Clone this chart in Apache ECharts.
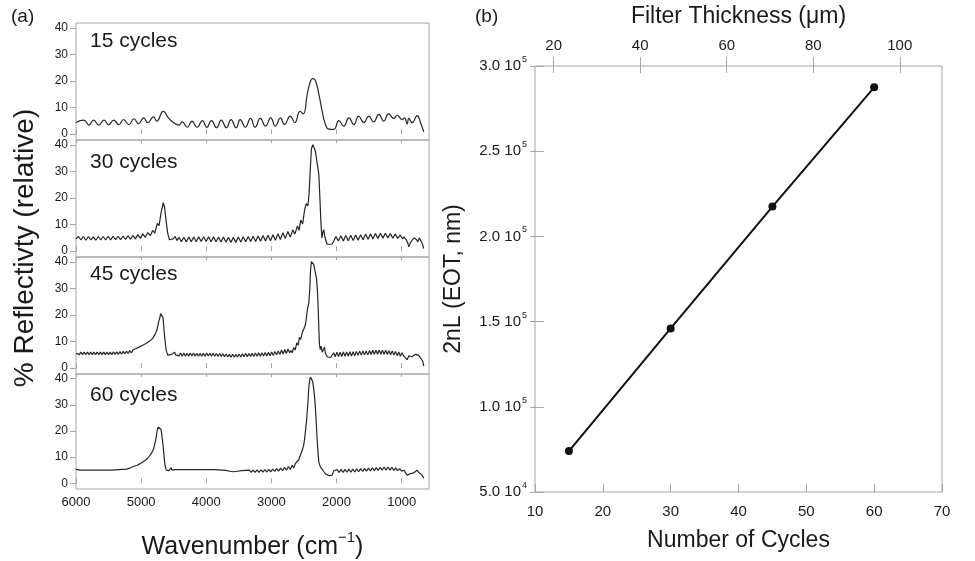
<!DOCTYPE html>
<html>
<head>
<meta charset="utf-8">
<title>Reflectivity spectra and EOT vs cycles</title>
<script src="https://cdn.jsdelivr.net/npm/echarts@6/dist/echarts.min.js"></script>
<style>
  html, body { margin: 0; padding: 0; background: #fff; }
  #chart { width: 975px; height: 561px; }
</style>
</head>
<body>
<div id="chart"></div>
<script>
const FONT = '"Liberation Sans", Arial, Helvetica, sans-serif'

// panel (a): stacked spectra
const panelNames = ['15 cycles', '30 cycles', '45 cycles', '60 cycles']
const wavenumberTicks = [1000, 2000, 3000, 4000, 5000, 6000]
const reflectTicks = [0, 10, 20, 30, 40]

// [wavenumber (cm-1), % reflectivity]
const spec15 = [
  [6000,4.4],[5880,5.3],[5800,3.4],[5730,5.3],[5650,3.4],[5570,5.3],[5500,3.6],[5420,5.3],[5340,3.6],[5270,5.5],
  [5190,3.6],[5110,5.8],[5040,3.9],[4960,6.1],[4900,4.3],[4810,6.5],[4760,4.9],[4660,8.6],[4580,6.1],[4500,4.3],
  [4420,3.4],[4370,4.6],[4290,2.6],[4220,4.9],[4140,2.6],[4060,5.1],[3990,2.6],[3920,5.1],[3840,2.4],[3770,5.3],
  [3690,2.4],[3620,5.5],[3540,2.4],[3480,5.5],[3400,2.6],[3320,5.9],[3250,2.6],[3170,5.9],[3090,3.0],[3010,6.1],
  [2940,3.0],[2860,6.1],[2800,3.6],[2710,6.8],[2640,4.3],[2560,8.6],[2510,7.6],[2450,14.9],[2400,19.9],[2365,20.9],
  [2325,20.2],[2270,14.9],[2220,8.6],[2170,3.6],[2120,1.9],[2040,1.8],[1965,5.1],[1890,3.0],[1810,6.1],[1735,3.6],
  [1660,6.8],[1580,4.3],[1505,6.8],[1430,4.6],[1350,7.4],[1275,4.9],[1200,7.6],[1120,5.9],[1070,7.1],[990,5.5],
  [955,6.1],[915,3.9],[890,5.9],[840,4.3],[760,7.0],[710,4.3],[660,0.9]
]

const spec30 = [
  [6000,4.6],[5962,5.5],[5924,4.2],[5886,5.5],[5848,4.1],[5810,5.5],[5772,4.2],[5734,5.4],[5696,4.1],[5658,5.5],
  [5620,4.2],[5582,5.5],[5544,4.2],[5506,5.6],[5468,4.2],[5430,5.6],[5392,4.3],[5354,5.6],[5316,4.3],[5278,5.7],
  [5240,4.4],[5202,5.8],[5164,4.5],[5126,5.9],[5088,4.6],[5050,6.2],[5012,4.8],[4974,6.5],[4936,5.2],[4898,7.0],
  [4860,5.8],[4822,7.8],[4790,6.8],[4752,10.4],[4725,9.6],[4690,15.0],[4660,18.2],[4640,16.5],[4615,11.0],[4590,6.5],
  [4565,4.3],[4540,4.0],[4510,4.6],[4478,5.5],[4450,4.0],
  [4420,5.2],[4382,3.6],[4344,5.2],[4306,3.5],[4268,5.3],[4230,3.5],[4192,5.3],[4154,3.5],[4116,5.4],[4078,3.6],
  [4040,5.4],[4002,3.6],[3964,5.4],[3926,3.5],[3888,5.4],[3850,3.5],[3812,5.3],[3774,3.4],[3736,5.3],[3698,3.4],
  [3660,5.2],[3622,3.3],[3584,5.2],[3546,3.3],[3508,5.3],[3470,3.4],[3432,5.4],[3394,3.5],[3356,5.5],[3318,3.6],
  [3280,5.6],[3242,3.6],[3204,5.7],[3166,3.7],[3128,5.9],[3090,3.8],[3052,6.0],[3014,3.9],[2976,6.2],[2938,4.1],
  [2900,6.5],[2862,4.4],[2824,6.9],[2786,4.8],[2748,7.4],[2710,5.3],[2672,8.0],[2640,6.4],[2600,9.5],[2575,7.8],
  [2550,11.7],[2520,10.2],[2490,15.5],[2465,17.9],[2440,17.0],[2420,22.0],[2400,32.0],[2385,38.5],[2365,40.0],[2345,39.0],
  [2323,37.5],[2300,33.5],[2272,29.0],[2255,20.0],[2240,11.0],[2225,5.0],[2210,7.0],[2195,8.1],[2180,5.5],[2165,4.2],
  [2145,2.6],[2100,2.6],[2067,2.7],[2040,3.9],
  [2010,5.5],[1972,3.8],[1934,5.8],[1896,3.8],[1858,5.9],[1820,3.9],[1782,6.0],[1744,4.0],[1706,6.1],[1668,4.1],
  [1630,6.2],[1592,4.3],[1554,6.4],[1516,4.5],[1478,6.5],[1440,4.6],[1402,6.6],[1364,4.8],[1326,6.7],[1288,4.9],
  [1250,6.7],[1212,5.0],[1174,6.6],[1136,4.9],[1098,6.4],[1060,4.8],[1022,6.0],[984,4.6],[966,5.4],[930,4.3],
  [905,3.0],[890,1.6],[865,3.2],[838,4.1],[810,5.0],[787,5.6],[770,4.3],[751,3.5],[730,5.0],[710,5.1],
  [685,3.0],[660,1.0]
]

const spec45 = [
  [6000,5.6],[5975,6.0],[5950,5.1],[5925,6.0],[5900,5.1],[5875,6.0],[5850,5.1],[5825,6.0],[5800,5.1],[5775,6.0],
  [5750,5.1],[5725,6.0],[5700,5.1],[5675,6.0],[5650,5.1],[5625,6.0],[5600,5.1],[5575,6.0],[5550,5.1],[5525,6.0],
  [5500,5.1],[5475,6.0],[5450,5.1],[5425,6.1],[5400,5.2],[5375,6.1],[5350,5.2],[5325,6.2],[5300,5.3],[5275,6.3],
  [5250,5.4],[5225,6.4],[5200,5.5],[5175,6.6],[5150,5.7],[5125,6.9],[5100,6.2],[5075,7.4],[5050,6.7],[5025,8.0],
  [5000,7.3],[4975,8.6],[4950,7.9],[4925,9.3],[4900,8.8],[4875,10.1],[4850,9.7],[4825,11.1],[4805,11.6],[4780,13.0],
  [4755,14.5],[4735,17.0],[4714,18.9],[4700,20.5],[4688,21.1],[4675,20.3],[4663,18.9],[4652,15.5],[4642,12.6],[4627,9.0],
  [4612,6.4],[4591,4.9],[4565,5.0],[4530,5.2],[4500,5.4],[4485,6.0],[4470,5.0],
  [4445,5.6],[4420,4.6],[4395,5.7],[4370,4.5],[4345,5.7],[4320,4.5],[4295,5.6],[4270,4.5],[4245,5.7],[4220,4.6],
  [4195,5.7],[4170,4.5],[4145,5.6],[4120,4.5],[4095,5.6],[4070,4.5],[4045,5.6],[4020,4.5],[3995,5.7],[3970,4.6],
  [3945,5.6],[3920,4.5],[3895,5.6],[3870,4.5],[3845,5.5],[3820,4.4],[3795,5.5],[3770,4.4],[3745,5.4],[3720,4.3],
  [3695,5.3],[3670,4.2],[3645,5.2],[3620,4.1],[3595,5.2],[3570,4.1],[3545,5.2],[3520,4.2],[3495,5.3],[3470,4.2],
  [3445,5.4],[3420,4.3],[3395,5.5],[3370,4.3],[3345,5.5],[3320,4.4],[3295,5.6],[3270,4.4],[3245,5.7],[3220,4.5],
  [3195,5.8],[3170,4.5],[3145,5.8],[3120,4.6],[3095,5.9],[3070,4.6],[3045,6.0],[3020,4.7],[2995,6.1],[2970,4.8],
  [2945,6.3],[2920,5.0],[2895,6.5],[2870,5.1],[2845,6.8],[2820,5.3],[2795,7.0],[2770,5.5],[2745,7.2],[2720,5.8],
  [2700,6.6],[2680,5.8],[2656,7.8],[2635,6.8],[2610,9.5],[2590,8.6],[2570,11.6],[2550,10.8],[2528,13.2],[2510,12.6],
  [2490,15.5],[2477,16.4],[2460,19.5],[2451,21.4],[2440,23.0],[2425,24.5],[2410,30.0],[2400,36.4],[2385,40.1],[2365,39.8],
  [2349,38.9],[2330,36.5],[2308,33.9],[2290,28.0],[2282,22.6],[2270,14.0],[2262,8.9],[2250,7.0],[2236,8.3],[2220,6.0],
  [2205,6.4],[2185,7.9],[2170,5.5],[2159,4.9],[2140,4.2],[2118,3.9],[2090,4.0],[2067,4.2],
  [2045,5.8],[2020,4.3],[1995,6.0],[1970,4.4],[1945,6.0],[1920,4.4],[1895,6.1],[1870,4.5],[1845,6.1],[1820,4.5],
  [1795,6.2],[1770,4.6],[1745,6.2],[1720,4.7],[1695,6.3],[1670,4.8],[1645,6.4],[1620,4.9],[1595,6.5],[1570,5.0],
  [1545,6.5],[1520,5.0],[1495,6.6],[1470,5.1],[1445,6.7],[1420,5.2],[1395,6.7],[1370,5.2],[1345,6.8],[1320,5.2],
  [1295,6.7],[1270,5.2],[1245,6.7],[1220,5.1],[1195,6.6],[1170,5.0],[1145,6.5],[1120,4.9],[1095,6.3],[1070,4.7],
  [1045,6.1],[1020,4.5],[995,5.8],[970,4.6],[945,5.3],[915,3.2],[890,4.6],[864,4.9],[840,4.3],[813,4.5],
  [790,5.2],[762,5.7],[740,4.8],[710,3.9],[690,4.3],[675,2.5],[660,0.8]
]

const spec60 = [
  [6000,5.3],[5970,5.6],[5940,5.0],[5910,5.6],[5880,5.0],[5850,5.6],[5820,5.0],[5790,5.6],[5760,5.0],[5730,5.6],
  [5700,5.0],[5670,5.6],[5640,5.0],[5610,5.6],[5580,5.0],[5550,5.6],[5520,5.0],[5490,5.6],[5460,5.0],[5430,5.7],
  [5400,5.1],[5370,5.7],[5340,5.2],[5310,5.8],[5280,5.3],[5250,5.9],[5220,5.4],[5190,6.0],[5165,5.9],[5130,6.3],
  [5100,6.4],[5062,6.9],[5020,7.4],[4990,7.9],[4960,8.4],[4920,9.1],[4883,10.0],[4860,10.6],[4832,11.9],[4810,13.0],
  [4791,15.0],[4770,17.5],[4755,20.0],[4740,21.5],[4729,22.1],[4712,21.6],[4694,20.6],[4680,18.0],[4663,14.4],[4650,11.0],
  [4637,7.5],[4625,6.0],[4612,5.0],[4590,4.8],[4576,4.8],[4555,5.5],[4540,5.9],[4525,5.0],[4509,4.6],
  [4480,5.2],[4450,4.7],[4420,5.2],[4390,4.7],[4360,5.2],[4330,4.7],[4300,5.2],[4270,4.7],[4240,5.2],[4210,4.7],
  [4180,5.2],[4150,4.7],[4120,5.2],[4090,4.7],[4060,5.2],[4030,4.7],[4000,5.2],[3970,4.7],[3940,5.2],[3910,4.6],
  [3880,5.2],[3850,4.6],[3820,5.1],[3790,4.5],[3760,5.0],[3730,4.4],[3700,4.9],[3670,4.2],[3640,4.6],[3610,4.0],
  [3580,4.4],[3550,4.0],[3520,4.6],[3490,4.1],[3460,4.8],[3430,4.2],[3400,4.9],[3370,4.2],[3340,5.0],[3310,4.2],
  [3280,5.0],[3250,4.2],[3220,5.1],[3190,4.2],[3160,5.1],[3130,4.3],[3100,5.2],[3070,4.3],[3040,5.3],[3010,4.4],
  [2980,5.4],[2950,4.5],[2920,5.6],[2890,4.6],[2860,5.8],[2830,4.8],[2800,6.1],[2770,5.0],[2740,6.4],[2710,5.3],
  [2680,6.9],[2656,5.9],[2630,7.6],[2605,7.0],[2580,9.0],[2555,9.2],[2528,12.5],[2505,14.5],[2490,17.0],[2477,20.0],
  [2462,23.5],[2451,26.9],[2438,31.0],[2425,36.9],[2410,39.8],[2400,40.6],[2385,40.3],[2364,38.8],[2350,36.0],[2333,31.9],
  [2315,25.0],[2298,16.9],[2285,12.0],[2272,8.1],[2258,7.0],[2246,6.2],[2233,5.6],[2221,5.4],[2208,4.8],[2195,4.4],
  [2170,3.6],[2144,2.9],[2110,2.9],[2067,3.1],[2042,4.8],
  [2020,4.1],[1990,5.2],[1960,4.1],[1930,5.3],[1900,4.1],[1870,5.3],[1840,4.2],[1810,5.4],[1780,4.2],[1750,5.4],
  [1720,4.3],[1690,5.5],[1660,4.4],[1630,5.6],[1600,4.5],[1570,5.7],[1540,4.6],[1510,5.8],[1480,4.7],[1450,5.9],
  [1420,4.8],[1390,6.0],[1360,4.9],[1330,6.1],[1300,5.0],[1270,6.2],[1240,5.0],[1210,6.2],[1180,5.0],[1150,6.1],
  [1120,4.9],[1090,5.9],[1060,4.8],[1030,5.6],[1000,4.6],[966,5.0],[940,4.3],[915,3.1],[890,3.6],[864,3.7],
  [838,4.4],[813,4.0],[790,4.6],[762,5.0],[740,4.2],[710,3.6],[690,3.2],[660,1.9]
]

const spectra = [spec15, spec30, spec45, spec60]

// panel (b): optical thickness vs number of cycles
const cycles = [15, 30, 45, 60]
const eot = [74000, 146000, 217500, 287500]
const thicknessTicks = [20, 40, 60, 80, 100]
const eotTicks = [50000, 100000, 150000, 200000, 250000, 300000]
const eotTickText = [['5.0', '4'], ['1.0', '5'], ['1.5', '5'], ['2.0', '5'], ['2.5', '5'], ['3.0', '5']]

const chart = echarts.init(document.getElementById('chart'))

const gridColor = '#a6a6a6'
const textColor = '#1a1a1a'
const panelTops = [23, 140, 257, 374]
const panelLabelY = [41, 162, 274, 395]

const grids = panelTops.map(top => ({
  left: 76, top: top, width: 353, height: 117,
  show: true, borderColor: gridColor, borderWidth: 1, backgroundColor: 'transparent'
}))
grids.push({
  left: 535, top: 64, width: 407, height: 428,
  show: true, borderColor: gridColor, borderWidth: 1, backgroundColor: 'transparent'
})

function specXAxis(gridIndex, position, withLabels) {
  return {
    type: 'value', gridIndex: gridIndex, position: position,
    min: 580, max: 6000, inverse: true,
    axisLine: { show: false },
    splitLine: { show: false },
    axisTick: {
      show: true, inside: true, length: position === 'top' ? 3 : 5,
      customValues: wavenumberTicks,
      lineStyle: { color: gridColor }
    },
    axisLabel: {
      show: withLabels, customValues: wavenumberTicks, margin: 7,
      formatter: v => String(v),
      fontSize: 13, fontFamily: FONT, color: textColor
    }
  }
}

const xAxes = [0, 1, 2, 3].map(i => specXAxis(i, 'bottom', i === 3))
xAxes[3].name = '{t|Wavenumber (cm}{s|\u22121}{t|)}'
xAxes[3].nameLocation = 'middle'
xAxes[3].nameGap = 41
xAxes[3].nameTextStyle = {
  color: textColor,
  rich: {
    t: { fontSize: 25, fontFamily: FONT, color: textColor },
    s: { fontSize: 15, fontFamily: FONT, color: textColor, padding: [0, 0, 20, 0] }
  }
}
xAxes.push(specXAxis(1, 'top', false), specXAxis(2, 'top', false), specXAxis(3, 'top', false))

// index 7: cycles (bottom), 8: thickness (top), 9: inner ticks of top axis
xAxes.push({
  type: 'value', gridIndex: 4, position: 'bottom',
  min: 10, max: 70, interval: 10,
  name: 'Number of Cycles', nameLocation: 'middle', nameGap: 37,
  nameTextStyle: { fontSize: 23, fontFamily: FONT, color: textColor },
  axisLine: { show: false },
  splitLine: { show: false },
  axisTick: { inside: true, length: 8, lineStyle: { color: gridColor } },
  axisLabel: { fontSize: 15, fontFamily: FONT, color: textColor, margin: 12 }
})
xAxes.push({
  type: 'value', gridIndex: 4, position: 'top',
  min: 15.68, max: 109.76,
  name: 'Filter Thickness (\u03bcm)', nameLocation: 'middle', nameGap: 38,
  nameTextStyle: { fontSize: 23, fontFamily: FONT, color: textColor },
  axisLine: { show: false },
  splitLine: { show: false },
  axisTick: { inside: false, length: 9, customValues: thicknessTicks, lineStyle: { color: gridColor } },
  axisLabel: { customValues: thicknessTicks, fontSize: 15, fontFamily: FONT, color: textColor, margin: 13 }
})
xAxes.push({
  type: 'value', gridIndex: 4, position: 'top',
  min: 15.68, max: 109.76,
  axisLine: { show: false },
  splitLine: { show: false },
  axisTick: { inside: true, length: 7, customValues: thicknessTicks, lineStyle: { color: gridColor } },
  axisLabel: { show: false, customValues: thicknessTicks }
})

const yAxes = [0, 1, 2, 3].map(i => ({
  type: 'value', gridIndex: i,
  min: -2.2, max: 41.8,
  axisLine: { show: false },
  splitLine: { show: false },
  axisTick: { inside: false, length: 6, customValues: reflectTicks, lineStyle: { color: gridColor } },
  axisLabel: { customValues: reflectTicks, fontSize: 12, fontFamily: FONT, color: textColor, margin: 8 }
}))

yAxes.push({
  type: 'value', gridIndex: 4, position: 'left',
  min: 50000, max: 300000, interval: 50000,
  name: '2nL (EOT, nm)', nameLocation: 'middle', nameGap: 70,
  nameTextStyle: { fontSize: 23, fontFamily: FONT, color: textColor },
  axisLine: { show: false },
  splitLine: { show: false },
  axisTick: { inside: false, length: 5, lineStyle: { color: gridColor } },
  axisLabel: {
    margin: 8,
    formatter: v => {
      const k = eotTicks.indexOf(v)
      if (k < 0) return ''
      return '{m|' + eotTickText[k][0] + ' 10}{s|' + eotTickText[k][1] + '}'
    },
    rich: {
      m: { fontSize: 15, fontFamily: FONT, color: textColor },
      s: { fontSize: 9, fontFamily: FONT, color: textColor, padding: [0, 0, 13, 1] }
    }
  }
})
yAxes.push({
  type: 'value', gridIndex: 4, position: 'left',
  min: 50000, max: 300000, interval: 50000,
  axisLine: { show: false },
  splitLine: { show: false },
  axisTick: { inside: true, length: 9, lineStyle: { color: gridColor } },
  axisLabel: { show: false }
})

const series = spectra.map((d, i) => ({
  type: 'line',
  xAxisIndex: i, yAxisIndex: i,
  data: d,
  showSymbol: false,
  smooth: i === 0 ? 0.5 : false,
  lineStyle: { color: '#262626', width: 1.2 },
  silent: true
}))
series.push({
  type: 'line',
  xAxisIndex: 7, yAxisIndex: 4,
  data: cycles.map((c, i) => [c, eot[i]]),
  symbol: 'circle', symbolSize: 8,
  itemStyle: { color: '#111' },
  lineStyle: { color: '#111', width: 2 },
  silent: true
})

const labels = panelNames.map((name, i) => ({
  type: 'text', x: 90, y: panelLabelY[i],
  style: { text: name, fontSize: 21, fontFamily: FONT, fill: textColor, align: 'left', verticalAlign: 'middle' }
}))
labels.push(
  { type: 'text', x: 11, y: 17,
    style: { text: '(a)', fontSize: 19, fontFamily: FONT, fill: textColor, align: 'left', verticalAlign: 'middle' } },
  { type: 'text', x: 475, y: 17,
    style: { text: '(b)', fontSize: 19, fontFamily: FONT, fill: textColor, align: 'left', verticalAlign: 'middle' } },
  { type: 'text', x: 25, y: 248, rotation: Math.PI / 2,
    style: { text: '% Reflectivty (relative)', fontSize: 28, fontFamily: FONT, fill: textColor, align: 'center', verticalAlign: 'middle' } }
)

chart.setOption({
  animation: false,
  grid: grids,
  xAxis: xAxes,
  yAxis: yAxes,
  series: series,
  graphic: labels
})
</script>
</body>
</html>
